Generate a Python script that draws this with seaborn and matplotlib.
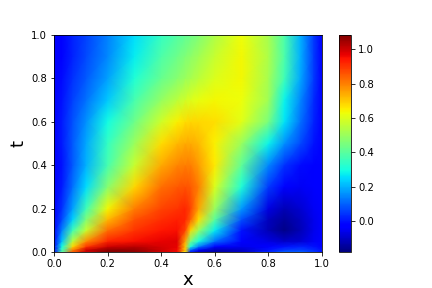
import numpy as np
import pandas as pd
import matplotlib
matplotlib.use("Agg")
import matplotlib.pyplot as plt
import seaborn as sns

# grid positions (denser near the jump and the bottom edge)
x_vals = [0, .03, .07, .12, .2, .3, .4, .46, .49, .51, .54, .6, .7, .8, .86, .92, .97, 1.0]
t_vals = [0, .01, .025, .05, .1, .15, .2, .3, .4, .5, .6, .7, .8, .9, 1.0]

# u(x, t), one list per t
u_t000 = [0, .4, .85, 1.0, 1.08, 1.07, 1.0, .96, .65, 0, -.1, -.14, -.1, .03, .1, .1, .05, 0]
u_t001 = [0, .35, .8, 1.0, 1.07, 1.06, 1.0, .96, .7, .1, -.05, -.12, -.1, 0, .05, .06, .03, 0]
u_t002 = [-.01, .3, .68, .9, 1.0, 1.02, .99, .97, .7, .3, .13, -.02, -.06, -.02, 0, .02, 0, -.02]
u_t005 = [-.02, .22, .55, .78, .92, .95, .97, .98, .75, .45, .3, .12, -.02, -.07, -.1, -.09, -.05, -.02]
u_t010 = [-.03, .14, .36, .57, .82, .9, .94, .95, .88, .68, .5, .27, 0, -.12, -.17, -.12, -.06, -.03]
u_t015 = [-.03, .07, .24, .46, .72, .86, .91, .93, .92, .84, .67, .4, .08, -.11, -.15, -.11, -.06, -.03]
u_t020 = [-.03, .04, .18, .36, .64, .8, .88, .9, .92, .88, .75, .5, .17, -.07, -.12, -.09, -.05, -.03]
u_t030 = [-.03, .01, .12, .25, .47, .68, .82, .85, .86, .85, .8, .6, .31, .05, -.03, -.05, -.04, -.03]
u_t040 = [-.03, 0, .09, .2, .37, .57, .74, .79, .8, .8, .76, .66, .41, .15, .04, -.01, -.03, -.03]
u_t050 = [-.03, .01, .09, .19, .34, .5, .67, .72, .74, .74, .72, .65, .5, .28, .16, .07, 0, -.03]
u_t060 = [-.03, .01, .08, .16, .29, .43, .58, .65, .67, .68, .68, .67, .61, .45, .26, .12, .02, -.03]
u_t070 = [-.03, 0, .06, .12, .23, .37, .49, .55, .58, .6, .62, .64, .63, .51, .28, .15, .03, -.03]
u_t080 = [-.03, -.01, .04, .09, .18, .31, .42, .47, .5, .52, .55, .6, .64, .52, .36, .19, .05, -.03]
u_t090 = [-.03, -.02, .02, .07, .15, .27, .38, .43, .46, .48, .51, .57, .64, .53, .38, .2, .05, -.03]
u_t100 = [-.03, -.02, .02, .06, .14, .25, .34, .39, .41, .43, .46, .53, .63, .52, .38, .2, .05, -.03]

df = pd.DataFrame([u_t000, u_t001, u_t002, u_t005, u_t010, u_t015, u_t020, u_t030,
                   u_t040, u_t050, u_t060, u_t070, u_t080, u_t090, u_t100],
                  index=t_vals, columns=x_vals)

x_idx = np.arange(len(x_vals))
t_idx = np.arange(len(t_vals))

fig = plt.figure(figsize=(6, 4), dpi=72)
ax = fig.add_axes([0.125, 0.125, 0.62, 0.755])
cax = fig.add_axes([0.785, 0.125, 0.028, 0.755])

sns.heatmap(df, cmap="jet", vmin=-0.18, vmax=1.085, shading="gouraud",
            xticklabels=False, yticklabels=False, ax=ax, cbar_ax=cax,
            cbar_kws={"ticks": [0, 0.2, 0.4, 0.6, 0.8, 1.0]})

# heatmap works in cell index, so put the real x and t back with a scale
ax.set_xscale("function", functions=(lambda i: np.interp(i, x_idx, x_vals),
                                     lambda v: np.interp(v, x_vals, x_idx)))
ax.set_yscale("function", functions=(lambda i: np.interp(i, t_idx, t_vals),
                                     lambda v: np.interp(v, t_vals, t_idx)))
ax.set_xlim(0, len(x_vals) - 1)
ax.set_ylim(0, len(t_vals) - 1)

ticks = [0, 0.2, 0.4, 0.6, 0.8, 1.0]
ax.set_xticks(np.interp(ticks, x_vals, x_idx), labels=[f"{v:.1f}" for v in ticks])
ax.set_yticks(np.interp(ticks, t_vals, t_idx), labels=[f"{v:.1f}" for v in ticks], rotation=0)
ax.minorticks_off()
ax.tick_params(length=3.5, width=0.8, labelsize=10, bottom=True, left=True)

ax.set_xlabel("x", fontsize=18, labelpad=2)
ax.set_ylabel("t", fontsize=18)

for side in ax.spines:
    ax.spines[side].set_visible(True)
    ax.spines[side].set_linewidth(0.8)

cbar = ax.collections[0].colorbar
cbar.outline.set_linewidth(0.8)
cbar.outline.set_edgecolor("black")
cbar.ax.tick_params(length=3.5, width=0.8, labelsize=10)

fig.savefig("out.png", dpi=72)
